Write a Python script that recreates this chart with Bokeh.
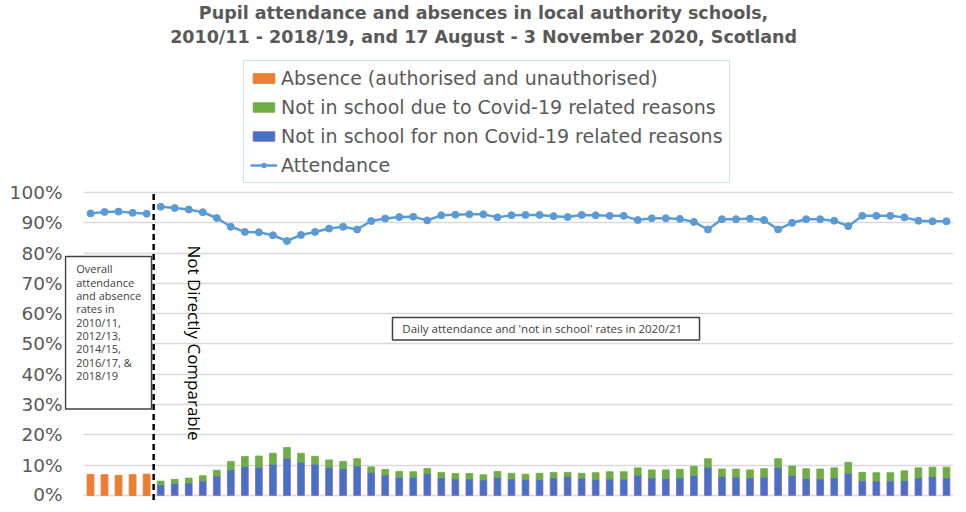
import math
import pandas as pd
from bokeh.plotting import figure
from bokeh.models import (ColumnDataSource, Range1d, FixedTicker,
                          PrintfTickFormatter, Legend, LegendItem, Label, BoxAnnotation)
from bokeh.embed import file_html
from bokeh.resources import INLINE

# ---------------- data ----------------
years = ["2010/11", "2012/13", "2014/15", "2016/17", "2018/19"]
absence = [6.9, 6.8, 6.6, 6.8, 7.0]
attendance_years = [93.1, 93.6, 93.7, 93.3, 93.0]

# school days 17 August - 3 November 2020
days = [d.strftime("%d %b %Y") for d in pd.bdate_range("2020-08-17", "2020-11-03")]

not_in_school_non_covid = [
    3.5, 4.0, 4.1, 4.8, 6.4, 8.4, 9.5, 9.3, 10.3, 12.2, 11.0, 10.3, 9.3, 8.9, 9.7, 7.6, 6.7, 6.0, 6.0,
    7.2, 5.8, 5.4, 5.4, 5.1, 6.0, 5.4, 5.3, 5.3, 5.8, 6.2, 5.7, 5.3, 5.4, 5.4, 6.7, 5.8, 5.6, 5.8,
    6.6, 9.3, 6.2, 6.0, 5.8, 6.0, 9.3, 6.6, 5.6, 5.4, 5.8, 7.3, 4.8, 4.7, 4.8, 4.9, 5.8, 6.2, 5.8,
]
not_in_school_covid = [
    1.2, 1.3, 1.6, 1.7, 1.9, 2.8, 3.3, 3.7, 3.6, 3.6, 2.9, 2.6, 2.4, 2.3, 2.4, 1.8, 1.9, 1.9, 1.8,
    1.7, 1.8, 1.8, 1.8, 1.7, 1.9, 1.9, 1.7, 2.0, 1.8, 1.4, 1.6, 2.2, 2.4, 2.4, 2.4, 2.6, 2.8, 2.8,
    3.0, 2.8, 2.5, 2.7, 2.6, 2.8, 2.8, 3.1, 3.2, 3.3, 3.3, 3.6, 2.8, 2.8, 2.7, 3.2, 3.3, 3.1, 3.5,
]
attendance_days = [
    95.3, 94.9, 94.4, 93.5, 91.6, 88.7, 87.0, 86.9, 85.9, 84.0, 86.0, 87.0, 88.1, 88.7, 87.8, 90.6,
    91.4, 91.9, 92.0, 90.8, 92.5, 92.7, 92.8, 92.8, 91.8, 92.5, 92.6, 92.6, 92.2, 91.9, 92.6, 92.5,
    92.3, 92.3, 90.9, 91.5, 91.5, 91.3, 90.3, 87.8, 91.2, 91.2, 91.4, 90.9, 87.8, 90.0, 91.2, 91.2,
    90.7, 88.9, 92.3, 92.3, 92.3, 91.8, 90.7, 90.5, 90.5,
]
y_ticks = list(range(0, 101, 10))

# category positions along the x axis (one slot per year / school day)
x_years = list(range(len(years)))
x_days = list(range(len(years), len(years) + len(days)))

ORANGE, GREEN, BLUE, LINE = "#ED7D31", "#70AD47", "#4472C4", "#5B9BD5"
GREY = "#595959"

# ---------------- figure ----------------
p = figure(width=958, height=504,
           x_range=Range1d(-1.854, 61.5),
           y_range=Range1d(-3.02, 163.42),
           output_backend="svg", toolbar_location=None,
           min_border_left=64, min_border_right=5, min_border_top=0, min_border_bottom=0)
p.outline_line_color = None
p.xaxis.visible = False
p.xgrid.visible = False
p.ygrid.ticker = FixedTicker(ticks=y_ticks)
p.ygrid.grid_line_color = "#d9d9d9"
p.ygrid.grid_line_width = 1.3
ax = p.yaxis[0]
ax.ticker = FixedTicker(ticks=y_ticks)
ax.formatter = PrintfTickFormatter(format="%d%%")
ax.axis_line_color = None
ax.major_tick_line_color = None
ax.minor_tick_line_color = None
ax.major_tick_out = 0
ax.major_tick_in = 0
ax.major_label_standoff = 2
ax.major_label_text_font = "DejaVu Sans"
ax.major_label_text_font_size = "18.5px"
ax.major_label_text_color = GREY

# white strip so the gridlines start at the first category, as in the original
p.add_layout(BoxAnnotation(left=-3, right=-0.5, top=170, bottom=-5, fill_color="white",
                           fill_alpha=1, line_color=None, level="glyph"))

r_abs = p.vbar(x=x_years, top=absence, width=0.48, fill_color=ORANGE, line_color=ORANGE)

src = ColumnDataSource(dict(x=x_days, day=days, noncovid=not_in_school_non_covid,
                            covid=not_in_school_covid))
stack = p.vbar_stack(["noncovid", "covid"], x="x", width=0.48, source=src,
                     fill_color=[BLUE, GREEN], line_color=["#8a5cc8", GREEN], line_width=0.8)

p.line(x_years, attendance_years, line_color=LINE, line_width=2.5)
p.scatter(x_years, attendance_years, size=7, fill_color=LINE, line_color=LINE)
r_line = p.line(x_days, attendance_days, line_color=LINE, line_width=2.5)
r_pts = p.scatter(x_days, attendance_days, size=7, fill_color=LINE, line_color=LINE)

p.segment(x0=[4.5], y0=[-1.5], x1=[4.5], y1=[100], line_color="black", line_width=2.5,
          line_dash="6 4")

# ---------------- annotations ----------------
p.add_layout(BoxAnnotation(left=-1.783, right=4.347, top=78.86, bottom=28.52,
                           fill_color="white", fill_alpha=1, line_color="#404040",
                           line_alpha=1, line_width=1.5))
p.add_layout(Label(x=-1.02, y=77.3,
                   text="Overall\nattendance\nand absence\nrates in\n2010/11,\n2012/13,\n2014/15,\n2016/17, &\n2018/19",
                   text_align="left", text_baseline="top", text_font="Open Sans",
                   text_font_size="11px", text_color="#404040", text_line_height=0.89))
p.add_layout(Label(x=7.41, y=82.55, text="Not Directly Comparable", angle=-math.pi / 2,
                   text_align="left", text_baseline="middle", text_font="Open Sans",
                   text_font_size="17px", text_color="black"))
p.add_layout(BoxAnnotation(left=21.52, right=43.4, top=58.72, bottom=51.34,
                           fill_color="white", fill_alpha=1, line_color="#404040",
                           line_alpha=1, line_width=1.5))
p.add_layout(Label(x=22.22, y=55.13, text="Daily attendance and 'not in school' rates in 2020/21",
                   text_align="left", text_baseline="middle", text_font="Open Sans",
                   text_font_size="11.5px", text_color="#404040"))

p.add_layout(Label(x=28.01, y=159.4, text="Pupil attendance and absences in local authority schools,",
                   text_align="center", text_baseline="middle", text_font="DejaVu Sans",
                   text_font_style="bold", text_font_size="17.5px", text_color=GREY))
p.add_layout(Label(x=28.01, y=151.3, text="2010/11 - 2018/19, and 17 August - 3 November 2020, Scotland",
                   text_align="center", text_baseline="middle", text_font="DejaVu Sans",
                   text_font_style="bold", text_font_size="17.5px", text_color=GREY))

legend = Legend(items=[
    LegendItem(label="Absence (authorised and unauthorised)", renderers=[r_abs]),
    LegendItem(label="Not in school due to Covid-19 related reasons", renderers=[stack[1]]),
    LegendItem(label="Not in school for non Covid-19 related reasons", renderers=[stack[0]]),
    LegendItem(label="Attendance", renderers=[r_line, r_pts]),
], location=(179, 321), orientation="vertical",
    glyph_width=27, glyph_height=12, label_height=21, spacing=7, padding=6, margin=0,
    label_standoff=4, border_line_color="#9DC3E6", border_line_width=1.5,
    label_text_font="DejaVu Sans", label_text_font_size="19px", label_text_color=GREY,
    background_fill_color="white", background_fill_alpha=1)
p.add_layout(legend)

open("out.html", "w").write(file_html(p, INLINE))
